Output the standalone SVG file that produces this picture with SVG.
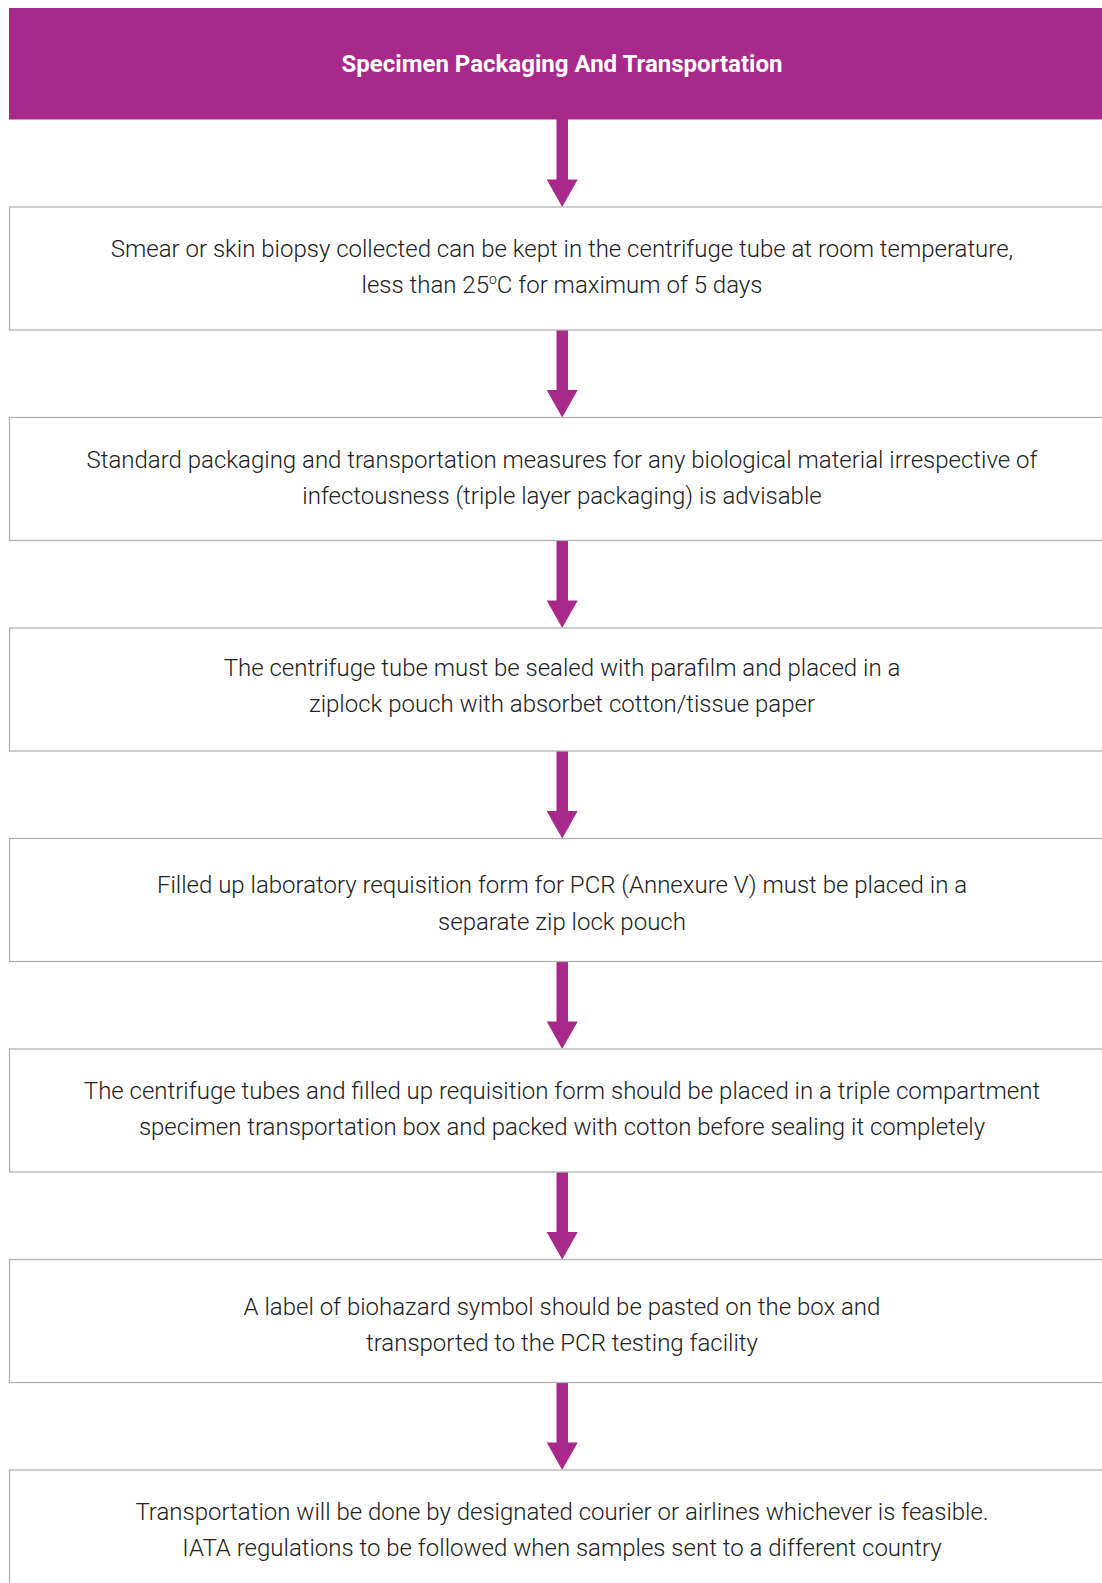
<svg xmlns="http://www.w3.org/2000/svg" width="1102" height="1583" viewBox="0 0 1102 1583">
  <defs>
    <style>
      .hdr { fill: #a8298a; }
      .box { fill: #ffffff; stroke: #b3b3b3; stroke-width: 1.3; }
      .title { font-family: Roboto, "Liberation Sans", sans-serif; font-weight: 700; font-size: 24px; fill: #ffffff; text-anchor: middle; }
      .txt { font-family: "Roboto Light", Roboto, "Liberation Sans", sans-serif; font-weight: 300; font-size: 24px; fill: #222222; text-anchor: middle; }
      .shaft { fill: #a8298a; }
    </style>
    <!-- downward arrow head, tip at (0,0) -->
    <path id="arrowHead" d="M -15.5 -27.5 L 15.5 -27.5 L 0 0 Z" fill="#a8298a"/>
  </defs>
  <rect width="1102" height="1583" fill="#ffffff"/>

  <!-- connectors -->
  <g id="connectors">
    <rect class="shaft" x="556.5" y="119" width="11.5" height="62"/>
    <use href="#arrowHead" x="562.2" y="207"/>
    <rect class="shaft" x="556.5" y="330" width="11.5" height="61"/>
    <use href="#arrowHead" x="562.2" y="417.5"/>
    <rect class="shaft" x="556.5" y="540.5" width="11.5" height="61"/>
    <use href="#arrowHead" x="562.2" y="628"/>
    <rect class="shaft" x="556.5" y="751" width="11.5" height="61"/>
    <use href="#arrowHead" x="562.2" y="838.5"/>
    <rect class="shaft" x="556.5" y="961.5" width="11.5" height="61"/>
    <use href="#arrowHead" x="562.2" y="1049"/>
    <rect class="shaft" x="556.5" y="1172" width="11.5" height="61"/>
    <use href="#arrowHead" x="562.2" y="1259.5"/>
    <rect class="shaft" x="556.5" y="1382.5" width="11.5" height="61"/>
    <use href="#arrowHead" x="562.2" y="1470"/>
  </g>

  <g id="header">
    <rect class="hdr" x="9" y="8" width="1100" height="111.5"/>
    <text class="title" x="562" y="71.5">Specimen Packaging And Transportation</text>
  </g>

  <g id="step1">
    <rect class="box" x="9.5" y="207" width="1100" height="123"/>
    <text class="txt" x="562" y="257">Smear or skin biopsy collected can be kept in the centrifuge tube at room temperature,</text>
    <text class="txt" x="562" y="293">less than 25<tspan font-size="14" dy="-9">o</tspan><tspan dy="9">C for maximum of 5 days</tspan></text>
  </g>

  <g id="step2">
    <rect class="box" x="9.5" y="417.5" width="1100" height="123"/>
    <text class="txt" x="562" y="467.5">Standard packaging and transportation measures for any biological material irrespective of</text>
    <text class="txt" x="562" y="503.5">infectousness (triple layer packaging) is advisable</text>
  </g>

  <g id="step3">
    <rect class="box" x="9.5" y="628" width="1100" height="123"/>
    <text class="txt" x="562" y="676">The centrifuge tube must be sealed with parafilm and placed in a</text>
    <text class="txt" x="562" y="712">ziplock pouch with absorbet cotton/tissue paper</text>
  </g>

  <g id="step4">
    <rect class="box" x="9.5" y="838.5" width="1100" height="123"/>
    <text class="txt" x="562" y="893">Filled up laboratory requisition form for PCR (Annexure V) must be placed in a</text>
    <text class="txt" x="562" y="929.5">separate zip lock pouch</text>
  </g>

  <g id="step5">
    <rect class="box" x="9.5" y="1049" width="1100" height="123"/>
    <text class="txt" x="562" y="1099">The centrifuge tubes and filled up requisition form should be placed in a triple compartment</text>
    <text class="txt" x="562" y="1135">specimen transportation box and packed with cotton before sealing it completely</text>
  </g>

  <g id="step6">
    <rect class="box" x="9.5" y="1259.5" width="1100" height="123"/>
    <text class="txt" x="562" y="1314.5">A label of biohazard symbol should be pasted on the box and</text>
    <text class="txt" x="562" y="1350.5">transported to the PCR testing facility</text>
  </g>

  <g id="step7">
    <rect class="box" x="9.5" y="1470" width="1100" height="123"/>
    <text class="txt" x="562" y="1519.5">Transportation will be done by designated courier or airlines whichever is feasible.</text>
    <text class="txt" x="562" y="1555.5">IATA regulations to be followed when samples sent to a different country</text>
  </g>
</svg>
